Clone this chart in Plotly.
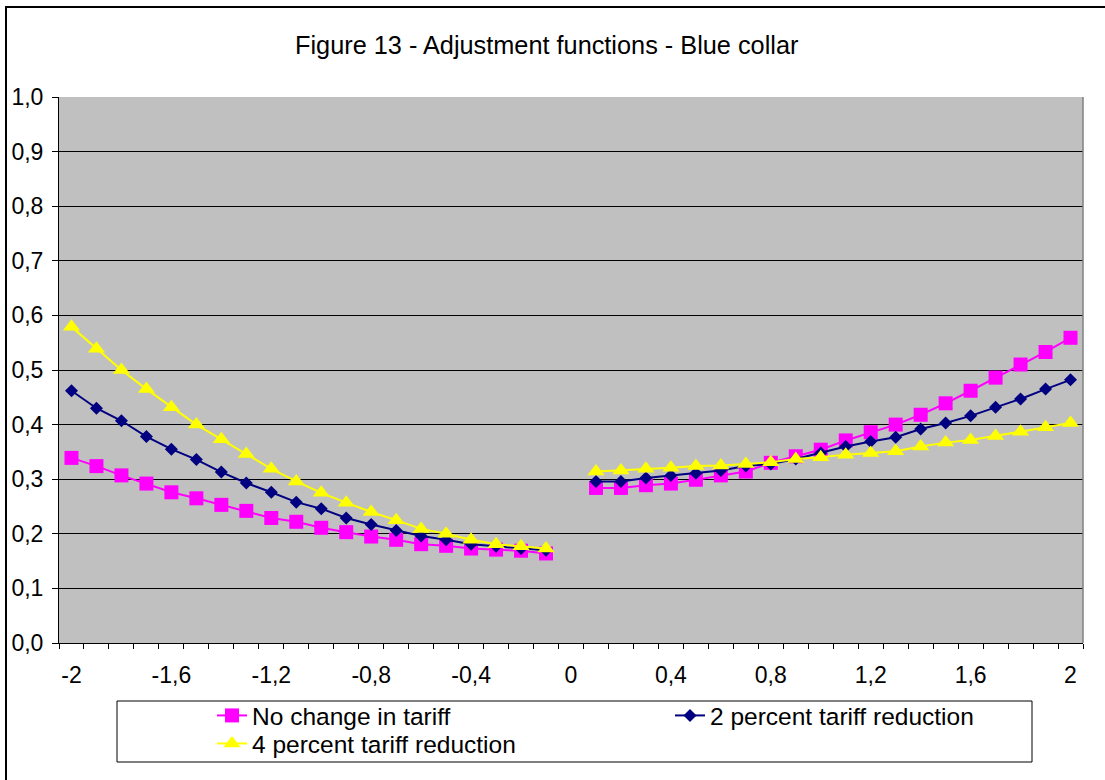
import plotly.graph_objects as go

# ---------------- data ----------------
x_values = [-2.0, -1.9, -1.8, -1.7, -1.6, -1.5, -1.4, -1.3, -1.2, -1.1,
            -1.0, -0.9, -0.8, -0.7, -0.6, -0.5, -0.4, -0.3, -0.2, -0.1,
            0.0,
            0.1, 0.2, 0.3, 0.4, 0.5, 0.6, 0.7, 0.8, 0.9, 1.0,
            1.1, 1.2, 1.3, 1.4, 1.5, 1.6, 1.7, 1.8, 1.9, 2.0]

no_change = [0.339, 0.324, 0.307, 0.292, 0.276, 0.265, 0.253, 0.242, 0.229, 0.222,
             0.211, 0.203, 0.195, 0.189, 0.181, 0.178, 0.173, 0.171, 0.169, 0.164,
             None,
             0.284, 0.284, 0.289, 0.292, 0.299, 0.307, 0.314, 0.330, 0.342, 0.354,
             0.371, 0.386, 0.400, 0.418, 0.439, 0.462, 0.486, 0.510, 0.533, 0.559]

two_pct = [0.462, 0.430, 0.407, 0.378, 0.355, 0.336, 0.313, 0.293, 0.276, 0.258,
           0.246, 0.229, 0.217, 0.206, 0.196, 0.189, 0.181, 0.177, 0.173, 0.170,
           None,
           0.296, 0.296, 0.302, 0.307, 0.311, 0.316, 0.324, 0.328, 0.337, 0.348,
           0.360, 0.369, 0.377, 0.392, 0.403, 0.416, 0.432, 0.447, 0.465, 0.482]

four_pct = [0.579, 0.539, 0.500, 0.465, 0.432, 0.400, 0.373, 0.346, 0.319, 0.296,
            0.275, 0.257, 0.240, 0.225, 0.209, 0.200, 0.189, 0.181, 0.177, 0.173,
            None,
            0.314, 0.316, 0.319, 0.321, 0.324, 0.325, 0.328, 0.331, 0.337, 0.340,
            0.345, 0.348, 0.351, 0.360, 0.367, 0.372, 0.379, 0.387, 0.395, 0.403]

series_names = ["No change in tariff", "2 percent tariff reduction", "4 percent tariff reduction"]

x_tick_vals = [-2.0, -1.6, -1.2, -0.8, -0.4, 0.0, 0.4, 0.8, 1.2, 1.6, 2.0]
x_tick_text = ["-2", "-1,6", "-1,2", "-0,8", "-0,4", "0", "0,4", "0,8", "1,2", "1,6", "2"]
y_tick_vals = [0.0, 0.1, 0.2, 0.3, 0.4, 0.5, 0.6, 0.7, 0.8, 0.9, 1.0]
y_tick_text = ["0,0", "0,1", "0,2", "0,3", "0,4", "0,5", "0,6", "0,7", "0,8", "0,9", "1,0"]

title_text = "Figure 13 - Adjustment functions - Blue collar"

# ---------------- layout geometry (pixels) ----------------
FIG_W, FIG_H = 1105, 780
L, R, T, B = 59, 1083, 97, 643
PW, PH = R - L, B - T


def px(x):
    return (x - L) / PW


def py(y):
    return (B - y) / PH


FONT = "Liberation Sans, Arial, sans-serif"
LEG_FONT = dict(family=FONT, size=24.5, color="black")

fig = go.Figure()

fig.add_trace(go.Scatter(
    x=x_values, y=no_change, name=series_names[0], mode="lines+markers",
    line=dict(color="#FF00FF", width=2),
    marker=dict(symbol="square", size=14, color="#FF00FF"),
    legend="legend",
))
fig.add_trace(go.Scatter(
    x=x_values, y=two_pct, name=series_names[1], mode="lines+markers",
    line=dict(color="#000080", width=2),
    marker=dict(symbol="diamond", size=10, color="#000080"),
    legend="legend",
))
fig.add_trace(go.Scatter(
    x=x_values, y=four_pct, name=series_names[2], mode="lines+markers",
    line=dict(color="#FFFF00", width=2),
    marker=dict(symbol="triangle-up", size=15, color="#FFFF00"),
    legend="legend2",
))

# category boundaries for tick marks (Excel style, between categories)
step = x_values[1] - x_values[0]
boundaries = [x_values[0] - step / 2 + i * step for i in range(len(x_values) + 1)]

legend_common = dict(
    orientation="h",
    xref="container", yref="container",
    xanchor="left", yanchor="top",
    bgcolor="rgba(0,0,0,0)", borderwidth=0,
    font=LEG_FONT,
    entrywidth=413, entrywidthmode="pixels",
    traceorder="normal",
)

fig.update_layout(
    width=FIG_W, height=FIG_H,
    margin=dict(l=L, r=FIG_W - R, t=T, b=FIG_H - B, pad=0, autoexpand=False),
    paper_bgcolor="white",
    plot_bgcolor="#C0C0C0",
    font=dict(family=FONT, size=23, color="black"),
    showlegend=True,
    legend=dict(legend_common, x=212 / FIG_W, y=1 - 693 / FIG_H),
    legend2=dict(legend_common, x=212 / FIG_W, y=1 - 721 / FIG_H),
    xaxis=dict(
        range=[boundaries[0], boundaries[-1]],
        tickmode="array", tickvals=x_tick_vals, ticktext=x_tick_text,
        ticks="", showgrid=False, zeroline=False,
        showline=True, linecolor="black", linewidth=1,
        tickfont=dict(family=FONT, size=23, color="black"),
        ticklabelstandoff=11,
        minor=dict(tickmode="array", tickvals=boundaries, ticks="outside",
                   ticklen=5, tickwidth=1, tickcolor="black", showgrid=False),
        fixedrange=True,
    ),
    yaxis=dict(
        range=[0, 1],
        tickmode="array", tickvals=y_tick_vals, ticktext=y_tick_text,
        ticks="outside", ticklen=6, tickwidth=1, tickcolor="black",
        showgrid=True, gridcolor="black", gridwidth=1,
        zeroline=False,
        showline=True, linecolor="black", linewidth=1,
        tickfont=dict(family=FONT, size=23, color="black"),
        ticklabelstandoff=4,
        fixedrange=True,
    ),
    annotations=[dict(
        text=title_text, xref="paper", yref="paper",
        x=px(546), y=py(45), xanchor="center", yanchor="middle",
        showarrow=False, font=dict(family=FONT, size=25.3, color="black"),
    )],
    shapes=[
        # outer chart frame
        dict(type="rect", xref="paper", yref="paper",
             x0=px(6), y0=py(7), x1=px(1130), y1=py(800),
             line=dict(color="black", width=2), fillcolor="rgba(0,0,0,0)", layer="above"),
        # plot-area right edge (grey)
        dict(type="line", xref="paper", yref="paper",
             x0=1, y0=0, x1=1, y1=1,
             line=dict(color="#808080", width=1.5), layer="above"),
        # legend box
        dict(type="rect", xref="paper", yref="paper",
             x0=px(117), y0=py(701), x1=px(1032), y1=py(762),
             line=dict(color="black", width=1), fillcolor="white", layer="below"),
    ],
)

fig.write_html("out.html", post_script="document.body.style.margin='0';",
               config={"displayModeBar": False})
